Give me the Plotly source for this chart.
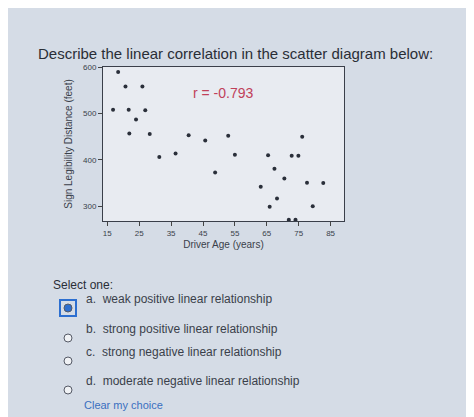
import plotly.graph_objects as go

age = [18.4, 20.7, 26.0, 16.8, 21.7, 26.9, 24.0, 21.9, 28.3, 31.3, 36.4, 40.5, 45.7,
       52.9, 55.0, 48.8, 65.4, 67.4, 72.8, 74.9, 76.1, 70.5, 63.1, 77.6, 82.7, 68.2,
       65.9, 79.4, 71.9, 74.0]
distance = [589, 558, 558, 508, 508, 507, 487, 457, 456, 406, 414, 453, 442,
            452, 411, 373, 410, 381, 409, 409, 450, 360, 342, 351, 350, 317,
            299, 300, 271, 271]
x_ticks = [15, 25, 35, 45, 55, 65, 75, 85]
y_ticks = [300, 400, 500, 600]
options = ["a.  weak positive linear relationship",
           "b.  strong positive linear relationship",
           "c.  strong negative linear relationship",
           "d.  moderate negative linear relationship"]

W, H = 474, 417
def px(x): return x / W
def py(y): return 1 - y / H

fig = go.Figure(go.Scatter(x=age, y=distance, mode="markers",
                           marker=dict(color="#2a2f3a", size=4)))

fig.update_layout(
    width=W, height=H, margin=dict(l=0, r=0, t=0, b=0, autoexpand=False),
    paper_bgcolor="#d5dce6", plot_bgcolor="#e8ebf1", showlegend=False,
    font=dict(family="Liberation Sans", color="#3a3f4a"),
    xaxis=dict(domain=[px(95), px(336)], range=[13.65, 89.2], tickvals=x_ticks,
               ticks="outside", ticklen=4, showgrid=False, zeroline=False,
               showline=True, linecolor="#3a3f4a", mirror=True,
               tickfont=dict(size=8), title=dict(text="Driver Age (years)",
                                                 font=dict(size=10), standoff=4)),
    yaxis=dict(domain=[py(213), py(59)], range=[268.4, 600], tickvals=y_ticks,
               ticks="outside", ticklen=4, showgrid=False, zeroline=False,
               showline=True, linecolor="#3a3f4a", mirror=True,
               tickfont=dict(size=8), title=dict(text="Sign Legibility Distance (feet)",
                                                 font=dict(size=10), standoff=8)),
)

fig.add_annotation(x=px(28), y=py(35), xref="paper", yref="paper", xanchor="left",
                   text="Describe the linear correlation in the scatter diagram below:",
                   showarrow=False, font=dict(size=15, color="#2a2e36"))
fig.add_annotation(x=px(183), y=py(75), xref="paper", yref="paper", xanchor="left",
                   text="r = -0.793", showarrow=False,
                   font=dict(size=14, color="#c0405a"))
fig.add_annotation(x=px(43), y=py(277), xref="paper", yref="paper", xanchor="left",
                   text="Select one:", showarrow=False, font=dict(size=12, color="#2a2e36"))

ys = [300, 330, 353, 382]
for i, (label, y) in enumerate(zip(options, ys)):
    fig.add_annotation(x=px(76), y=py(y), xref="paper", yref="paper", xanchor="left",
                       text=label, showarrow=False, font=dict(size=12, color="#3a3f4a"))
    if i == 0:
        fig.add_shape(type="rect", xref="paper", yref="paper",
                      x0=px(52), x1=px(68), y0=py(y + 8), y1=py(y - 8),
                      line=dict(color="#2d6fd0", width=2), fillcolor="#d5dce6")
    fig.add_shape(type="circle", xref="paper", yref="paper",
                  x0=px(56), x1=px(64), y0=py(y + 4), y1=py(y - 4),
                  line=dict(color="#555a66", width=1),
                  fillcolor="#2d6fd0" if i == 0 else "#f0f2f5")

fig.add_annotation(x=px(74), y=py(405), xref="paper", yref="paper", xanchor="left",
                   text="Clear my choice", showarrow=False,
                   font=dict(size=11, color="#3a6fc0"))

fig.write_html("out.html")
